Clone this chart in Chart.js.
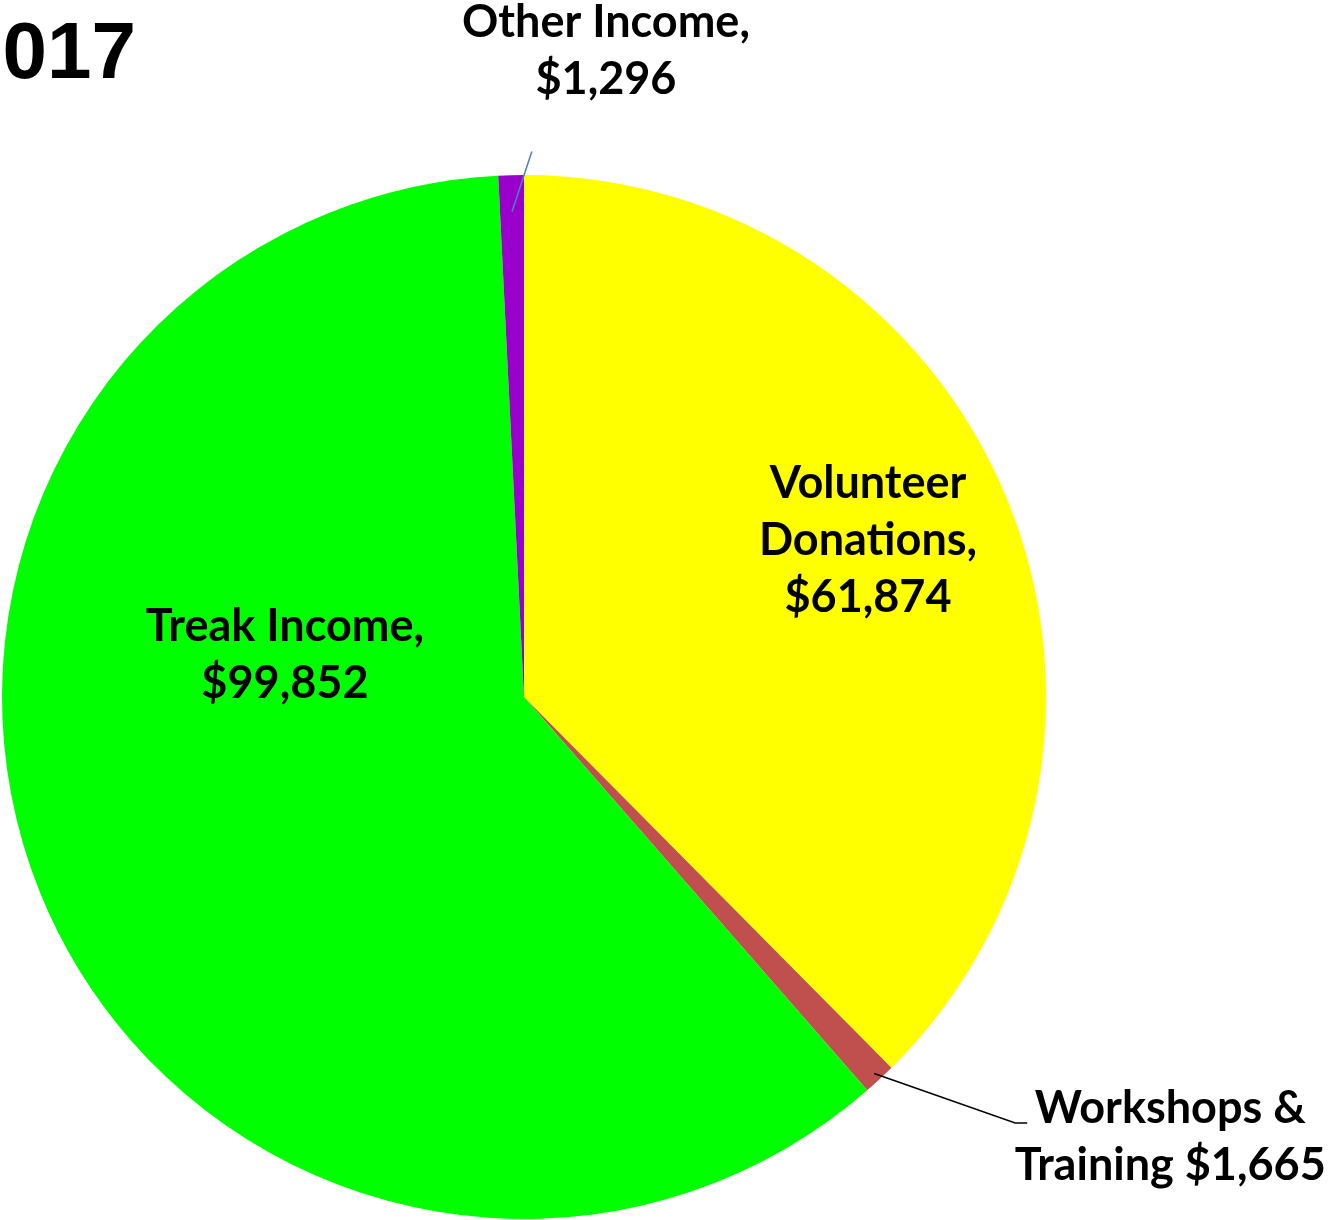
<!DOCTYPE html>
<html><head><meta charset="utf-8">
<script src="https://cdn.jsdelivr.net/npm/chart.js@4"></script>
<style>html,body{margin:0;padding:0;background:#fff;overflow:hidden}#wrap{position:relative;width:1330px;height:1220px}
.pre1{font:bold 20px 'Liberation Sans';position:absolute;left:-999px}.pre2{font:bold 20px Lato;position:absolute;left:-999px}</style>
</head><body><div id="wrap"><canvas id="c" width="1330" height="1220"></canvas></div>
<span class="pre1">2017</span><span class="pre2">Income</span>
<script>
const titleText = "2017";
const categories = ["Volunteer Donations", "Workshops & Training", "Treak Income", "Other Income"];
const values = [61874, 1665, 99852, 1296];
const labelLines = [
  ["Volunteer", "Donations,", "$61,874"],
  ["Workshops &", "Training $1,665"],
  ["Treak Income,", "$99,852"],
  ["Other Income,", "$1,296"]
];
const colors = ["#FFFF00", "#C0504D", "#00FF00", "#9900CC"];

const FONT = "bold 45px Lato, 'Open Sans', sans-serif";
const TITLE_FONT = "bold 80px 'Liberation Sans', Arial, sans-serif";
const LH = 57;

const labelPlugin = {
  id: 'labels',
  afterDraw(chart) {
    const ctx = chart.ctx;
    const meta = chart.getDatasetMeta(0);
    const a0 = meta.data[0];
    const cx = a0.x, cy = a0.y, r = a0.outerRadius;
    ctx.save();
    ctx.fillStyle = "#000";
    ctx.font = TITLE_FONT;
    ctx.textAlign = "left"; ctx.textBaseline = "alphabetic";
    ctx.fillText(titleText, -42, 78);

    ctx.font = FONT;
    ctx.textAlign = "center"; ctx.textBaseline = "middle";
    const drawLines = (lines, x, y) => {
      const start = y - (lines.length - 1) * LH / 2;
      lines.forEach((t, i) => ctx.fillText(t, x, start + i * LH));
    };
    drawLines(labelLines[0], cx + 0.659 * r, cy - 0.30 * r);
    drawLines(labelLines[2], cx - 0.458 * r, cy - 0.08 * r);

    const aO = meta.data[3];
    const midO = (aO.startAngle + aO.endAngle) / 2;
    ctx.strokeStyle = "#4F81BD"; ctx.lineWidth = 1.5;
    ctx.beginPath();
    ctx.moveTo(cx + Math.cos(midO) * r * 0.93, cy + Math.sin(midO) * r * 0.93);
    ctx.lineTo(cx + 0.015 * r, cy - 1.045 * r);
    ctx.stroke();
    drawLines(labelLines[3], cx + 0.157 * r, cy - 1.237 * r);

    const aW = meta.data[1];
    const midW = (aW.startAngle + aW.endAngle) / 2;
    ctx.strokeStyle = "#000"; ctx.lineWidth = 1.5;
    ctx.beginPath();
    ctx.moveTo(cx + Math.cos(midW) * r * 0.985, cy + Math.sin(midW) * r * 0.985);
    ctx.lineTo(cx + 0.941 * r, cy + 0.816 * r);
    ctx.lineTo(cx + 0.964 * r, cy + 0.816 * r);
    ctx.stroke();
    drawLines(labelLines[1], cx + 1.238 * r, cy + 0.842 * r);
    ctx.restore();
  }
};

function build() {
  new Chart(document.getElementById('c'), {
    type: 'pie',
    data: {
      labels: categories,
      datasets: [{ data: values, backgroundColor: colors, borderWidth: 0 }]
    },
    options: {
      responsive: false,
      animation: false,
      layout: { padding: { left: 2, top: 175, right: 284, bottom: 1 } },
      plugins: { legend: { display: false }, tooltip: { enabled: false }, title: { display: false } }
    },
    plugins: [labelPlugin]
  });
}
Promise.all([document.fonts.load(TITLE_FONT, titleText), document.fonts.load(FONT, "Income")])
  .then(build, build);
</script></body></html>
